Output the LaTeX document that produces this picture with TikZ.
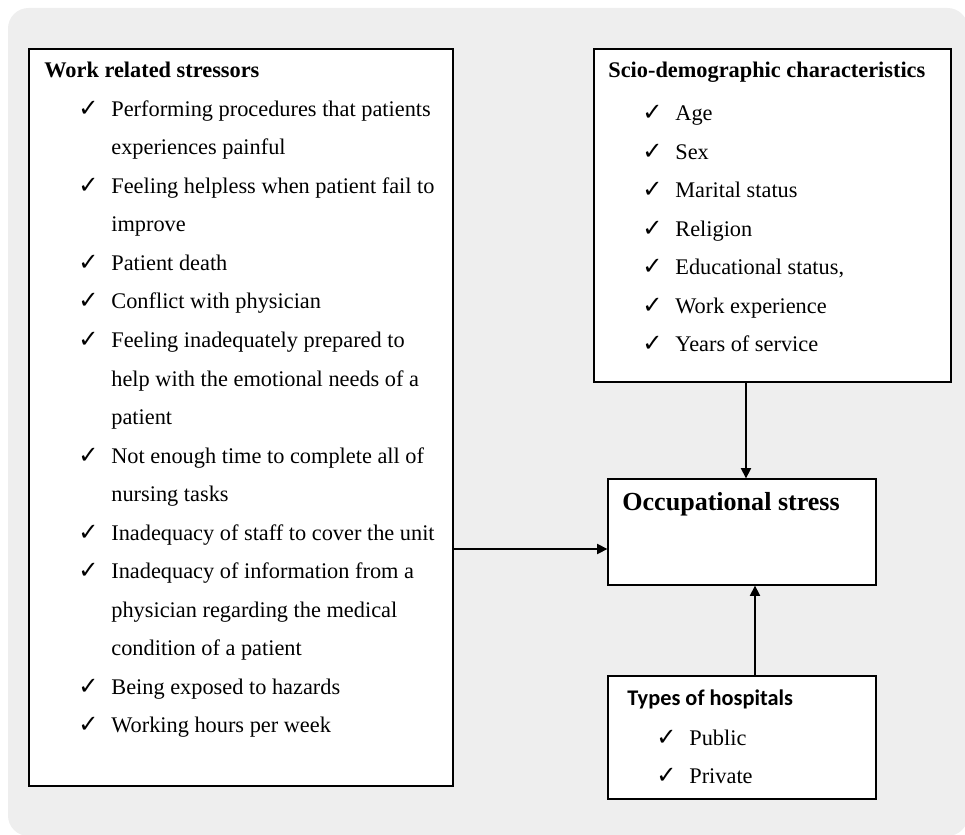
\documentclass[tikz,border=0pt]{standalone}
\usepackage{amsmath,amssymb}
\usepackage{fontspec}
\setmainfont{Liberation Serif}
\newfontfamily\calibri{Carlito}
\newfontfamily\symbfont{DejaVu Sans}
\usepackage{tikz}
\usetikzlibrary{arrows.meta,calc,positioning}
\definecolor{my_gray}{RGB}{238, 238, 238}
\newcommand{\pxu}{0.5373pt}
\newcommand{\basesize}{\fontsize{12}{14}\selectfont}
\newcommand{\tickmark}{{\symbfont ✓}}
\tikzset{
  box/.style = {draw=black, fill=white, line width=0.7pt, inner sep=0pt},
  head/.style = {anchor=base west, inner sep=0pt, font=\basesize\bfseries},
  item/.style = {anchor=base west, inner sep=0pt, font=\basesize},
  tick/.style = {anchor=base west, inner sep=0pt, font=\fontsize{13}{15}\selectfont},
  link/.style = {line width=0.7pt, -{Triangle[length=5.5pt,width=5.5pt]}}
}

\begin{document}
\begin{tikzpicture}[x=\pxu, y=-\pxu]
        \useasboundingbox (0,0) rectangle (965,835);
        \fill[my_gray, rounded corners=11pt] (8,8) rectangle (968,836);

        % boxes
        \node [box, minimum width=424*\pxu, minimum height=737*\pxu] (work) at (241,417.5) {};
        \node [box, minimum width=357*\pxu, minimum height=333*\pxu] (socio) at (772.5,215.5) {};
        \node [box, minimum width=268*\pxu, minimum height=106*\pxu] (occ) at (742,532) {};
        \node [box, minimum width=268*\pxu, minimum height=123*\pxu] (hosp) at (742,737.5) {};

        % work related stressors
        \node [head] (workhead) at (44,78) {Work related stressors};
        \foreach \t [count=\i] in {Performing procedures that patients, experiences painful,
            Feeling helpless when patient fail to, improve, Patient death, Conflict with physician,
            Feeling inadequately prepared to, help with the emotional needs of a, patient,
            Not enough time to complete all of, nursing tasks, Inadequacy of staff to cover the unit,
            Inadequacy of information from a, physician regarding the medical,
            condition of a patient, Being exposed to hazards, Working hours per week}
          \node [item] (w\i) at (111,78+38.5*\i) {\t};
        \foreach \i in {1,3,5,6,7,10,12,13,16,17}
          \node [tick] (wc\i) at (78,78+38.5*\i) {\tickmark};

        % scio-demographic characteristics
        \node [head] (sociohead) at (608,78) {Scio-demographic characteristics};
        \foreach \t [count=\i] in {Age, Sex, Marital status, Religion, {Educational status,},
            Work experience, Years of service} {
          \node [item] (s\i) at (675,82+38.55*\i) {\t};
          \node [tick] (sc\i) at (642,82+38.55*\i) {\tickmark};
        }

        % outcome
        \node [head, font=\fontsize{14}{16}\selectfont\bfseries] (occhead) at (622,510) {Occupational stress};

        % types of hospitals
        \node [head, font=\basesize\calibri\bfseries] (hosphead) at (627,705) {Types of hospitals};
        \foreach \t/\y [count=\i] in {Public/745, Private/783} {
          \node [item] (h\i) at (689,\y) {\t};
          \node [tick] (hc\i) at (656,\y) {\tickmark};
        }

        % connectors
        \draw [link] (work.east |- 0,549) -- (occ.west |- 0,549);
        \draw [link] (socio.south -| 746,0) -- (occ.north -| 746,0);
        \draw [link] (hosp.north -| 755,0) -- (occ.south -| 755,0);
\end{tikzpicture}
\end{document}
